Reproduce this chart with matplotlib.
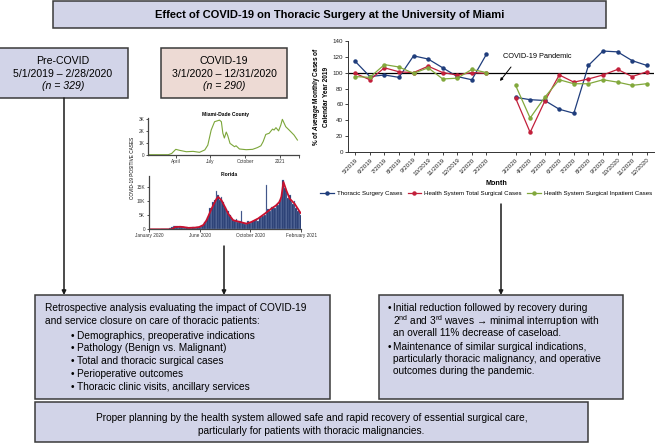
import numpy as np
import matplotlib
matplotlib.use('Agg')
import matplotlib.pyplot as plt
from matplotlib.patches import Rectangle

plt.rcParams['font.family'] = ['Liberation Sans', 'DejaVu Sans']
plt.rcParams['mathtext.fontset'] = 'custom'
plt.rcParams['mathtext.rm'] = 'Liberation Sans'
plt.rcParams['mathtext.it'] = 'Liberation Sans:italic:bold'
plt.rcParams['mathtext.bf'] = 'Liberation Sans:bold'

W, H = 659, 443

# ---- monthly caseload, % of 2019 average (gap slot between periods) ----
months = ['5/2019', '6/2019', '7/2019', '8/2019', '9/2019', '10/2019', '11/2019',
          '12/2019', '1/2020', '2/2020', '', '3/2020', '4/2020', '5/2020', '6/2020',
          '7/2020', '8/2020', '9/2020', '10/2020', '11/2020', '12/2020']
thoracic = [114, 95, 97, 94, 121, 117, 106, 95, 91, 123, np.nan,
            69, 66, 65, 54, 49, 109, 127, 126, 115, 109]
total_cases = [99, 91, 106, 101, 100, 108, 100, 97, 100, 99, np.nan,
               68, 25, 64, 97, 88, 92, 97, 104, 95, 101]
inpatient = [95, 94, 110, 107, 99, 106, 92, 93, 104, 100, np.nan,
             84, 43, 69, 91, 86, 86, 91, 88, 84, 86]

# ---- Miami-Dade county positive cases (K) ----
miami_dates = ['2020-01-18', '2020-03-11', '2020-03-20', '2020-03-31', '2020-04-11',
               '2020-04-28', '2020-05-16', '2020-06-02', '2020-06-16', '2020-06-24',
               '2020-07-03', '2020-07-12', '2020-07-25', '2020-07-30', '2020-08-03',
               '2020-08-07', '2020-08-12', '2020-08-16', '2020-08-22', '2020-09-03',
               '2020-09-07', '2020-09-16', '2020-10-04', '2020-10-21', '2020-11-03',
               '2020-11-12', '2020-11-18', '2020-11-25', '2020-12-04', '2020-12-09',
               '2020-12-13', '2020-12-17', '2020-12-22', '2020-12-29', '2021-01-04',
               '2021-01-08', '2021-01-17', '2021-01-26', '2021-02-08', '2021-02-17']
miami_cases = [0, 0, 0.1, 0.45, 0.36, 0.25, 0.28, 0.2, 0.4, 0.8,
               2.07, 2.77, 2.9, 2.77, 1.8, 1.4, 1.9, 1.6, 0.95, 0.67,
               0.75, 0.48, 0.42, 0.45, 0.6, 0.75, 1.1, 1.7, 1.8, 2.0,
               2.15, 2.07, 2.27, 2.0, 2.5, 2.97, 2.35, 2.07, 1.65, 1.23]

# ---- Florida positive cases (K): 7-day average and daily counts every 4 days ----
fl_avg_dates = ['2020-02-01', '2020-03-26', '2020-04-03', '2020-04-15', '2020-04-23',
                '2020-05-05', '2020-05-21', '2020-05-31', '2020-06-10', '2020-06-18',
                '2020-06-30', '2020-07-12', '2020-07-16', '2020-07-24', '2020-08-01',
                '2020-08-09', '2020-08-21', '2020-09-06', '2020-09-22', '2020-10-04',
                '2020-10-20', '2020-11-05', '2020-11-21', '2020-12-03', '2020-12-11',
                '2020-12-15', '2020-12-20', '2020-12-27', '2021-01-04', '2021-01-16',
                '2021-01-30']
fl_avg = [0, 0, 0.8, 0.9, 0.8, 0.5, 0.6, 0.8, 1.5, 3.2,
          7.3, 10.8, 11.4, 10.2, 7.9, 5.5, 3.2, 2.6, 2.0, 2.6,
          3.8, 5.5, 7.3, 8.5, 9.8, 11.5, 16.7, 13.7, 10.8, 9.0,
          5.8]
fl_daily_start = '2020-03-02'
fl_daily = [0, 0, 0.05, 0.1, 0.2, 0.5, 0.9, 1.0,
            1.2, 1.0, 0.9, 0.8, 0.7, 0.8, 0.6,
            0.7, 0.5, 0.6, 0.4, 0.8, 0.6, 0.7, 0.8,
            0.9, 1.3, 1.6, 2.6, 3.5, 4.5, 7.5, 7.0,
            9.5, 10.5, 13.5, 12.0, 10.5, 11.5, 9.5,
            8.0, 7.0, 6.5, 5.0, 4.0, 3.2, 2.8, 3.5,
            2.5, 3.0, 6.5, 2.2, 1.9, 2.0, 3.0, 2.3,
            2.4, 2.8, 3.2, 3.5, 3.0, 4.2, 4.5,
            4.8, 5.0, 15.5, 7.0, 6.5, 7.8, 8.0, 7.5,
            9.0, 8.5, 10.5, 11.0, 17.5, 14.5, 13.0, 11.0,
            12.0, 9.5, 9.0, 10.0, 7.5, 6.5, 6.0,
            5.2]

fig = plt.figure(figsize=(W / 100, H / 100), dpi=100)


def px_axes(x0, y0, x1, y1):
    return fig.add_axes([x0 / W, 1 - y1 / H, (x1 - x0) / W, (y1 - y0) / H])


# ---------------- background layer: boxes, text, arrows ----------------
bg = fig.add_axes([0, 0, 1, 1])
bg.set_xlim(0, W)
bg.set_ylim(H, 0)
bg.axis('off')

lav = '#d2d4e8'
pink = '#eddad4'
edge = '#3a3a3a'


def box(x0, y0, x1, y1, fc):
    bg.add_patch(Rectangle((x0, y0), x1 - x0, y1 - y0, facecolor=fc,
                           edgecolor=edge, lw=1.1))


box(53, 1, 606, 28, lav)
bg.text(329.5, 15, 'Effect of COVID-19 on Thoracic Surgery at the University of Miami',
        ha='center', va='center', fontsize=8, fontweight='bold',
        family=['Liberation Sans Narrow', 'Liberation Sans'])

box(-2, 48, 128, 98, lav)
box(161, 48, 287, 98, pink)
for cx, lines in [(63, ['Pre-COVID', '5/1/2019 \u2013 2/28/2020', '(n = 329)']),
                  (224, ['COVID-19', '3/1/2020 \u2013 12/31/2020', '(n = 290)'])]:
    for i, (t, yy) in enumerate(zip(lines, [61, 73.5, 86])):
        bg.text(cx, yy, t, ha='center', va='center', fontsize=7.6,
                fontstyle='italic' if i == 2 else 'normal')

box(35, 295, 330, 399, lav)
box(379, 295, 623, 399, lav)
box(35, 402, 588, 442, lav)

fs = 7.3
bg.text(45, 308.3, 'Retrospective analysis evaluating the impact of COVID-19',
        va='center', fontsize=fs)
bg.text(45, 320.7, 'and service closure on care of thoracic patients:',
        va='center', fontsize=fs)
left_items = ['Demographics, preoperative indications', 'Pathology (Benign vs. Malignant)',
              'Total and thoracic surgical cases', 'Perioperative outcomes',
              'Thoracic clinic visits, ancillary services']
for t, yy in zip(left_items, [335.7, 348.3, 361, 374, 386.7]):
    bg.text(71, yy, '\u2022', va='center', fontsize=fs)
    bg.text(77.3, yy, t, va='center', fontsize=fs)

right_lines = ['Initial reduction followed by recovery during',
               '2$^{\\mathrm{nd}}$ and 3$^{\\mathrm{rd}}$ waves \u2192 minimal interruption with',
               'an overall 11% decrease of caseload.',
               'Maintenance of similar surgical indications,',
               'particularly thoracic malignancy, and operative',
               'outcomes during the pandemic.']
for i, (t, yy) in enumerate(zip(right_lines, [308.3, 320.7, 333.3, 346.7, 358.7, 371.3])):
    if i in (0, 3):
        bg.text(387.3, yy, '\u2022', va='center', fontsize=fs)
    bg.text(393.3, yy, t, va='center', fontsize=fs)

bg.text(311.5, 417.7, 'Proper planning by the health system allowed safe and rapid recovery '
        'of essential surgical care,', ha='center', va='center', fontsize=fs)
bg.text(311.5, 430.7, 'particularly for patients with thoracic malignancies.',
        ha='center', va='center', fontsize=fs)

arrow_kw = dict(arrowstyle='-|>', lw=1.1, color='#1a1a1a', mutation_scale=6,
                shrinkA=0, shrinkB=0)
bg.annotate('', xy=(64, 295), xytext=(64, 98), arrowprops=arrow_kw)
bg.annotate('', xy=(224, 295), xytext=(224, 246), arrowprops=arrow_kw)
bg.annotate('', xy=(501, 295), xytext=(501, 204), arrowprops=arrow_kw)

# ---------------- main line chart ----------------
ax = px_axes(348, 40.7, 654, 152.3)
x = np.arange(len(months))
series = [(thoracic, '#1f3d7c', 'Thoracic Surgery Cases'),
          (total_cases, '#c2203b', 'Health System Total Surgical Cases'),
          (inpatient, '#82a83c', 'Health System Surgical Inpatient Cases')]
for vals, col, lab in series:
    ax.plot(x, vals, color=col, lw=0.9, marker='o', ms=2.2, label=lab)
ax.axhline(100, color='black', lw=0.9, zorder=0)
ax.set_xlim(-0.5, len(months) - 0.5)
ax.set_ylim(0, 140)
ax.set_yticks(np.arange(0, 141, 20))
ax.set_xticks(x[np.array(months) != ''])
ax.set_xticklabels([m for m in months if m], rotation=45, ha='right',
                   rotation_mode='anchor')
ax.tick_params(labelsize=4.5, length=2, width=0.6, pad=1.5, colors='#222222')
for s in ['top', 'right']:
    ax.spines[s].set_visible(False)
for s in ['left', 'bottom']:
    ax.spines[s].set_linewidth(0.7)
    ax.spines[s].set_color('#333333')
ax.set_facecolor('none')
fig.text(320 / W, 1 - 96.5 / H, '% of $\\mathit{Average}$ Monthly Cases of\nCalendar Year 2019',
         rotation=90, ha='center', va='center', fontsize=4.7, fontweight='bold',
         multialignment='center')
fig.text(496 / W, 1 - 183 / H, 'Month', ha='center', va='center', fontsize=5.2,
         fontweight='bold')
bg.text(537.5, 56, 'COVID-19 Pandemic', ha='center', va='center', fontsize=5.3)
bg.annotate('', xy=(500, 81), xytext=(511, 67),
            arrowprops=dict(arrowstyle='-|>', lw=0.7, color='black', mutation_scale=4,
                            shrinkA=0, shrinkB=0))
ax.legend(loc='center', bbox_to_anchor=(486 / W, 1 - 193.3 / H), bbox_transform=fig.transFigure,
          ncol=3, frameon=False, fontsize=4.45, handlelength=2.2, handletextpad=0.45,
          columnspacing=0.9, borderpad=0, borderaxespad=0)


def mini_style(a):
    for s in ['top', 'right']:
        a.spines[s].set_visible(False)
    for s in ['left', 'bottom']:
        a.spines[s].set_linewidth(0.9)
        a.spines[s].set_color('#444444')
    a.tick_params(labelsize=3.4, length=1.8, width=0.6, pad=1.2, colors='#333333')
    a.set_facecolor('none')


# ---------------- Miami-Dade mini chart ----------------
am = px_axes(148.3, 118, 299.3, 154.7)
am.plot(np.array(miami_dates, dtype='datetime64[D]'), miami_cases, color='#7ca63a', lw=0.8)
am.set_xlim(np.datetime64('2020-01-18'), np.datetime64('2021-02-22'))
am.set_ylim(0, 3.08)
am.set_yticks([0, 1, 2, 3])
am.set_yticklabels(['0', '1K', '2K', '3K'])
am.set_xticks(np.array(['2020-04-01', '2020-07-01', '2020-10-01', '2021-01-01',
                        '2021-02-22'], dtype='datetime64[D]'))
am.set_xticklabels(['April', 'July', 'October', '2021', ''])
mini_style(am)
bg.text(225, 114.5, 'Miami-Dade County', ha='center', va='center', fontsize=3.6,
        fontweight='bold')

# ---------------- Florida mini chart ----------------
af = px_axes(149.3, 176, 301.3, 229.3)
fl_days = np.datetime64(fl_daily_start) + np.arange(len(fl_daily)) * 4
af.bar(fl_days, fl_daily, width=4, color='#1b2f68', edgecolor='#8ea3c8', lw=0.25)
af.plot(np.array(fl_avg_dates, dtype='datetime64[D]'), fl_avg, color='#c8102e', lw=1.3)
af.set_xlim(np.datetime64('2020-02-01'), np.datetime64('2021-02-01'))
af.set_ylim(0, 18.8)
af.set_yticks([0, 5, 10, 15])
af.set_yticklabels(['0', '5K', '10K', '15K'])
af.set_xticks(np.array(['2020-02-01', '2020-06-01', '2020-10-01', '2021-02-01'],
                       dtype='datetime64[D]'))
af.set_xticklabels(['January 2020', 'June 2020', 'October 2020', 'February 2021'])
mini_style(af)
bg.text(229, 174, 'Florida', ha='center', va='center', fontsize=3.6, fontweight='bold')
bg.text(133, 168, 'COVID-19 POSITIVE CASES', rotation=90, ha='center', va='center',
        fontsize=3.4)

fig.savefig('out.png', dpi=100)
